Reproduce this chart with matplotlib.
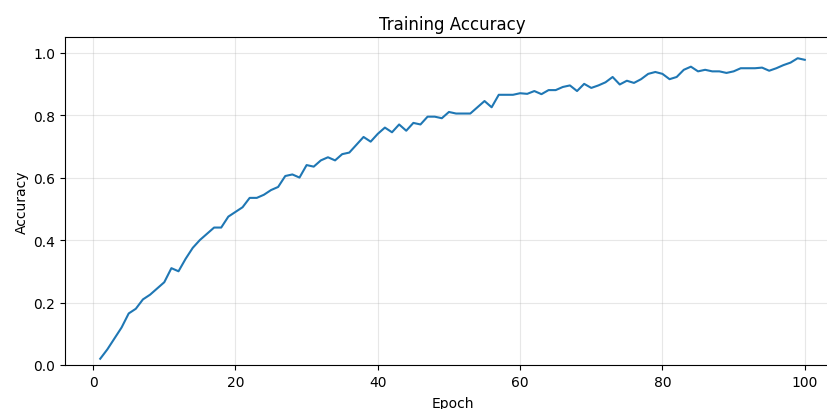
"""Training accuracy curve over 100 epochs."""

import matplotlib

matplotlib.use("Agg")
import matplotlib.pyplot as plt
import numpy as np

epochs = np.arange(1, 101)
accuracy = [
    0.02, 0.05, 0.085, 0.12, 0.165, 0.18, 0.21, 0.225, 0.245, 0.265,
    0.31, 0.30, 0.34, 0.375, 0.40, 0.42, 0.44, 0.44, 0.475, 0.49,
    0.505, 0.535, 0.535, 0.545, 0.56, 0.57, 0.605, 0.61, 0.60, 0.64,
    0.635, 0.655, 0.665, 0.655, 0.675, 0.68, 0.705, 0.73, 0.715, 0.74,
    0.76, 0.745, 0.77, 0.75, 0.775, 0.77, 0.795, 0.795, 0.79, 0.81,
    0.805, 0.805, 0.805, 0.825, 0.845, 0.825, 0.865, 0.865, 0.865, 0.87,
    0.868, 0.877, 0.867, 0.88, 0.88, 0.89, 0.895, 0.877, 0.90, 0.887,
    0.895, 0.905, 0.922, 0.898, 0.91, 0.903, 0.915, 0.932, 0.938, 0.932,
    0.915, 0.922, 0.945, 0.955, 0.94, 0.945, 0.94, 0.94, 0.935, 0.94,
    0.95, 0.95, 0.95, 0.952, 0.942, 0.95, 0.96, 0.968, 0.982, 0.977,
]

fig = plt.figure(figsize=(8.27, 4.10), dpi=100)
# axes run past the right edge of the picture, as in the reference
ax = fig.add_axes([65 / 827, 44 / 410, 775 / 827, 328 / 410])
ax.plot(epochs, accuracy, color="#1f77b4", linewidth=1.5)

ax.set_ylim(0, 1.05)
ax.set_title("Training Accuracy")
ax.set_xlabel("Epoch", labelpad=5)
ax.set_ylabel("Accuracy", labelpad=3)
ax.grid(True, alpha=0.3)

fig.savefig("out.png", dpi=100)
